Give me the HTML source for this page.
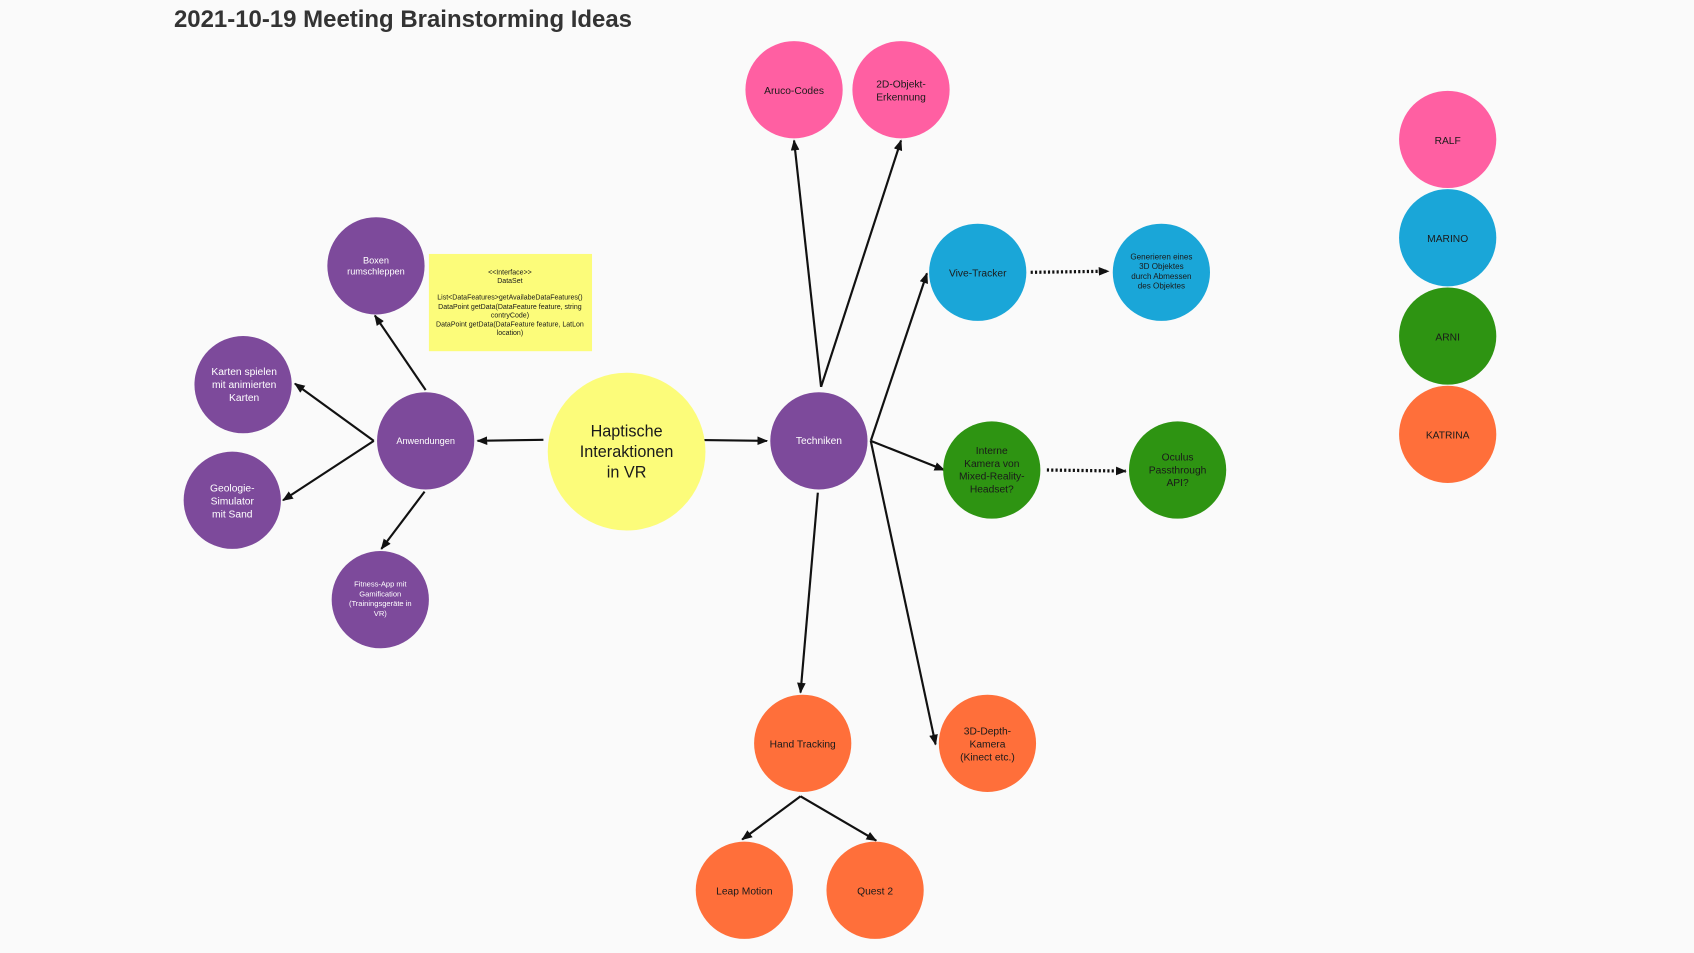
<!DOCTYPE html>
<html><head><meta charset="utf-8"><style>
html,body{margin:0;padding:0;background:#fafafa;}
svg{display:block;}
text{font-family:"Liberation Sans",sans-serif;fill:#1a1a1a;}
</style></head><body>
<svg width="1694" height="953" viewBox="0 0 1568 882" xmlns="http://www.w3.org/2000/svg">
<defs>
<marker id="a" markerWidth="10" markerHeight="8" refX="9" refY="4" orient="auto" markerUnits="userSpaceOnUse"><path d="M0,0 L10,4 L0,8 Z" fill="#111"/></marker>
</defs>
<rect width="1568" height="882" fill="#fafafa"/>
<text x="161" y="25" font-size="22" font-weight="bold" fill="#333" style="fill:#333" textLength="424" lengthAdjust="spacingAndGlyphs">2021-10-19 Meeting Brainstorming Ideas</text>

<g stroke="#111" stroke-width="2" fill="none" marker-end="url(#a)">
<line x1="503" y1="407" x2="442" y2="408"/>
<line x1="633" y1="407" x2="710" y2="408"/>
<line x1="394" y1="361" x2="347" y2="292"/>
<line x1="346" y1="408" x2="273" y2="355"/>
<line x1="346" y1="408" x2="262" y2="463"/>
<line x1="393" y1="455" x2="353" y2="508"/>
<line x1="760" y1="358" x2="735" y2="130"/>
<line x1="760" y1="358" x2="834" y2="130"/>
<line x1="806" y1="408" x2="858" y2="253"/>
<line x1="806" y1="408" x2="874" y2="435"/>
<line x1="806" y1="408" x2="866" y2="689"/>
<line x1="757" y1="456" x2="741" y2="641"/>
<line x1="741" y1="737" x2="687" y2="777"/>
<line x1="741" y1="737" x2="811" y2="778"/>
<line x1="954" y1="252" x2="1026" y2="251" stroke-dasharray="2,2" stroke-width="3"/>
<line x1="969" y1="435" x2="1042" y2="436" stroke-dasharray="2,2" stroke-width="3"/>
</g>

<rect x="397" y="235" width="151" height="90" fill="#fcfc7a"/>
<g font-size="6.5" text-anchor="middle">
<text x="472" y="254">&lt;&lt;Interface&gt;&gt;</text>
<text x="472" y="262">DataSet</text>
<text x="472" y="277">List&lt;DataFeatures&gt;getAvailabeDataFeatures()</text>
<text x="472" y="286">DataPoint getData(DataFeature feature, string</text>
<text x="472" y="294">contryCode)</text>
<text x="472" y="302">DataPoint getData(DataFeature feature, LatLon</text>
<text x="472" y="310">location)</text>
</g>

<circle cx="580" cy="418" r="73" fill="#fcfc7a"/>
<g font-size="15" text-anchor="middle">
<text x="580" y="404">Haptische</text>
<text x="580" y="423">Interaktionen</text>
<text x="580" y="442">in VR</text>
</g>

<g fill="#7d4a9b">
<circle cx="348" cy="246" r="45"/><circle cx="225" cy="356" r="45"/><circle cx="215" cy="463" r="45"/>
<circle cx="394" cy="408" r="45"/><circle cx="352" cy="555" r="45"/><circle cx="758" cy="408" r="45"/>
</g>
<g fill="#ff5fa2"><circle cx="735" cy="83" r="45"/><circle cx="834" cy="83" r="45"/><circle cx="1340" cy="129" r="45"/></g>
<g fill="#1aa6d8"><circle cx="905" cy="252" r="45"/><circle cx="1075" cy="252" r="45"/><circle cx="1340" cy="220" r="45"/></g>
<g fill="#2e9412"><circle cx="918" cy="435" r="45"/><circle cx="1090" cy="435" r="45"/><circle cx="1340" cy="311" r="45"/></g>
<g fill="#ff6f3a"><circle cx="743" cy="688" r="45"/><circle cx="914" cy="688" r="45"/><circle cx="689" cy="824" r="45"/><circle cx="810" cy="824" r="45"/><circle cx="1340" cy="402" r="45"/></g>

<g text-anchor="middle" font-size="8.5" style="fill:#fff">
<text x="348" y="244" style="fill:#fff">Boxen</text><text x="348" y="254" style="fill:#fff">rumschleppen</text>
<text x="394" y="411" style="fill:#fff">Anwendungen</text>
<text x="758" y="411" style="fill:#fff" font-size="9.5">Techniken</text>
</g>
<g text-anchor="middle" font-size="9.5">
<text x="226" y="347" style="fill:#fff">Karten spielen</text><text x="226" y="359" style="fill:#fff">mit animierten</text><text x="226" y="371" style="fill:#fff">Karten</text>
<text x="215" y="455" style="fill:#fff">Geologie-</text><text x="215" y="467" style="fill:#fff">Simulator</text><text x="215" y="479" style="fill:#fff">mit Sand</text>
</g>
<g text-anchor="middle" font-size="7" style="fill:#fff">
<text x="352" y="543" style="fill:#fff">Fitness-App mit</text><text x="352" y="552" style="fill:#fff">Gamification</text><text x="352" y="561" style="fill:#fff">(Trainingsgeräte in</text><text x="352" y="570" style="fill:#fff">VR)</text>
</g>
<g text-anchor="middle" font-size="9.5">
<text x="735" y="87">Aruco-Codes</text>
<text x="834" y="81">2D-Objekt-</text><text x="834" y="93">Erkennung</text>
<text x="1340" y="133">RALF</text>
<text x="1340" y="224">MARINO</text>
<text x="1340" y="315">ARNI</text>
<text x="1340" y="406">KATRINA</text>
<text x="905" y="256">Vive-Tracker</text>
<text x="918" y="420">Interne</text><text x="918" y="432">Kamera von</text><text x="918" y="444">Mixed-Reality-</text><text x="918" y="456">Headset?</text>
<text x="1090" y="426">Oculus</text><text x="1090" y="438">Passthrough</text><text x="1090" y="450">API?</text>
<text x="743" y="692">Hand Tracking</text>
<text x="914" y="680">3D-Depth-</text><text x="914" y="692">Kamera</text><text x="914" y="704">(Kinect etc.)</text>
<text x="689" y="828">Leap Motion</text>
<text x="810" y="828">Quest 2</text>
</g>
<g text-anchor="middle" font-size="7.5">
<text x="1075" y="240">Generieren eines</text><text x="1075" y="249">3D Objektes</text><text x="1075" y="258">durch Abmessen</text><text x="1075" y="267">des Objektes</text>
</g>
</svg>
</body></html>
